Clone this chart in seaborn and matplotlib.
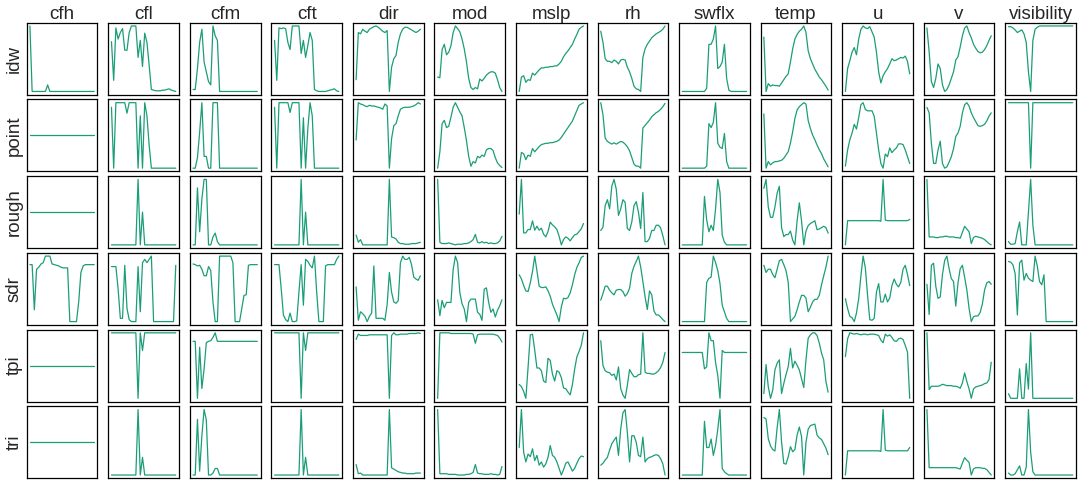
import matplotlib
matplotlib.use("Agg")
import matplotlib.pyplot as plt
import pandas as pd
import seaborn as sns

variables = ["cfh", "cfl", "cfm", "cft", "dir", "mod", "mslp", "rh", "swflx", "temp", "u", "v", "visibility"]
methods = ["idw", "point", "rough", "sdr", "tpi", "tri"]

# ---------------- idw ----------------
idw_cfh = [1.0,0,0,0,0,0,0,0,0.1,0,0,0,0,0,0,0,0,0,0,0,0,0,0,0,0,0,0,0,0,0]
idw_cfl = [0.76,0.17,0.97,0.8,0.9,0.96,0.63,0.63,0.9,1.0,1.0,1.0,0.52,0.78,0.38,0.89,0.75,0.4,0.03,0.02,0.01,0.01,0.01,0.02,0.02,0.03,0.04,0.02,0.01,0.0]
idw_cfm = [0.03,0.03,0.35,0.75,0.95,0.45,0.3,0.15,0.1,1.0,0.85,0.78,0.0,0,0,0,0,0,0,0,0,0,0,0,0,0,0,0,0,0]
idw_cft = [0.78,0.17,0.97,0.96,0.97,0.96,0.75,0.64,1.0,1.0,1.0,1.0,0.58,0.78,0.52,0.7,0.9,0.78,0.03,0.01,0.0,0.0,0.0,0.0,0.01,0.02,0.03,0.04,0.01,0.0]
idw_dir = [0.18,0.9,0.88,0.95,0.92,0.9,0.95,0.97,0.99,1.0,0.98,0.95,0.92,0.9,0.93,0.0,0.37,0.5,0.55,0.75,0.88,0.95,0.98,0.98,0.96,0.94,0.92,0.9,0.92,0.95]
idw_mod = [0.22,0.21,0.64,0.72,0.56,0.6,0.7,0.9,1.0,0.96,0.91,0.8,0.65,0.45,0.2,0.06,0.03,0.06,0.04,0.19,0.16,0.2,0.25,0.28,0.3,0.3,0.28,0.18,0.06,0.0]
idw_mslp = [0.0,0.22,0.24,0.14,0.18,0.17,0.28,0.25,0.29,0.33,0.36,0.36,0.37,0.37,0.38,0.38,0.39,0.39,0.42,0.46,0.53,0.58,0.62,0.67,0.72,0.8,0.87,0.95,0.98,1.0]
idw_rh = [0.92,0.75,0.5,0.46,0.46,0.44,0.48,0.46,0.42,0.48,0.49,0.48,0.37,0.3,0.2,0.08,0.04,0.03,0.0,0.52,0.65,0.72,0.77,0.82,0.85,0.88,0.9,0.92,0.95,1.0]
idw_swflx = [0,0,0,0,0,0,0,0,0,0,0,0.05,0.72,0.72,0.8,1.0,0.35,0.38,0.45,0.72,0.2,0.02,0,0,0,0,0,0,0,0]
idw_temp = [0.83,0.0,0.12,0.08,0.1,0.09,0.09,0.08,0.13,0.18,0.23,0.27,0.45,0.65,0.8,0.87,0.92,0.95,1.0,0.9,0.62,0.5,0.42,0.34,0.28,0.22,0.18,0.13,0.08,0.02]
idw_u = [0.0,0.35,0.47,0.6,0.67,0.56,0.8,0.95,1.0,0.97,0.96,0.99,0.91,0.83,0.6,0.3,0.13,0.24,0.3,0.35,0.42,0.5,0.47,0.48,0.5,0.52,0.51,0.54,0.46,0.27]
idw_v = [0.97,0.6,0.15,0.06,0.2,0.42,0.35,0.1,0.0,0.03,0.1,0.2,0.3,0.48,0.53,0.68,0.85,0.97,1.0,0.9,0.82,0.72,0.66,0.61,0.59,0.6,0.64,0.7,0.78,0.85]
idw_visibility = [0.99,0.99,0.97,0.94,0.9,0.92,0.94,0.88,0.75,0.3,0.0,0.78,0.95,0.98,1.0,1.0,1.0,1.0,1.0,1.0,1.0,1.0,1.0,1.0,1.0,1.0,1.0,1.0,1.0,1.0]

# ---------------- point ----------------
point_cfh = [0,0,0,0,0,0,0,0,0,0,0,0,0,0,0,0,0,0,0,0,0,0,0,0,0,0,0,0,0,0]
point_cfl = [0.93,0.0,1.0,1.0,1.0,1.0,1.0,0.84,1.0,1.0,1.0,1.0,0.0,0.8,0.0,1.0,0.8,0.35,0.0,0,0,0,0,0,0,0,0,0,0,0]
point_cfm = [0.0,0.0,0.16,0.55,1.0,0.18,0.18,0.0,0.0,1.0,1.0,1.0,0.0,0,0,0,0,0,0,0,0,0,0,0,0,0,0,0,0,0]
point_cft = [0.93,0.0,1.0,1.0,1.0,1.0,1.0,0.85,1.0,1.0,1.0,1.0,0.0,0.77,0.0,0.6,1.0,0.8,0.0,0,0,0,0,0,0,0,0,0,0,0]
point_dir = [0.43,1.0,0.98,0.97,0.95,0.94,0.96,0.95,0.95,0.94,0.93,0.92,0.9,0.98,0.95,0.0,0.45,0.65,0.68,0.8,0.9,0.92,0.93,0.93,0.93,0.94,0.95,0.97,1.0,0.98]
point_mod = [0.0,0.25,0.68,0.73,0.62,0.64,0.78,0.93,1.0,0.93,0.86,0.8,0.62,0.42,0.18,0.03,0.1,0.08,0.18,0.16,0.2,0.18,0.28,0.3,0.3,0.27,0.16,0.08,0.04,0.01]
point_mslp = [0.0,0.24,0.22,0.13,0.2,0.18,0.3,0.25,0.29,0.33,0.36,0.37,0.38,0.38,0.39,0.39,0.4,0.41,0.43,0.47,0.52,0.57,0.62,0.67,0.72,0.8,0.88,0.96,0.98,1.0]
point_rh = [0.98,0.8,0.45,0.4,0.38,0.36,0.38,0.36,0.38,0.4,0.39,0.36,0.32,0.26,0.16,0.06,0.03,0.03,0.0,0.6,0.64,0.68,0.72,0.77,0.8,0.83,0.85,0.88,0.92,0.97]
point_swflx = [0,0,0,0,0,0,0,0,0,0,0,0.03,0.68,0.62,0.7,1.0,0.38,0.32,0.3,0.53,0.1,0.0,0,0,0,0,0,0,0,0]
point_temp = [0.82,0.0,0.1,0.05,0.08,0.1,0.1,0.11,0.12,0.15,0.2,0.25,0.38,0.55,0.75,0.88,0.93,0.96,0.99,0.97,0.72,0.6,0.5,0.43,0.35,0.28,0.22,0.14,0.08,0.02]
point_u = [0.06,0.3,0.45,0.55,0.68,0.61,0.78,0.97,1.0,0.9,0.88,0.88,0.88,0.8,0.55,0.3,0.1,0.03,0.24,0.2,0.33,0.26,0.3,0.33,0.39,0.39,0.38,0.3,0.2,0.1]
point_v = [0.93,0.85,0.4,0.1,0.1,0.3,0.43,0.1,0.03,0.05,0.12,0.2,0.32,0.5,0.55,0.65,0.85,0.97,1.0,0.95,0.85,0.78,0.72,0.66,0.65,0.66,0.68,0.73,0.8,0.85]
point_visibility = [1.0,1.0,1.0,1.0,1.0,1.0,1.0,1.0,1.0,1.0,0.0,1.0,1.0,1.0,1.0,1.0,1.0,1.0,1.0,1.0,1.0,1.0,1.0,1.0,1.0,1.0,1.0,1.0,1.0,1.0]

# ---------------- rough ----------------
rough_cfh = [0,0,0,0,0,0,0,0,0,0,0,0,0,0,0,0,0,0,0,0,0,0,0,0,0,0,0,0,0,0]
rough_cfl = [0,0,0,0,0,0,0,0,0,0,0,0,1.0,0.0,0.5,0,0,0,0,0,0,0,0,0,0,0,0,0,0,0]
rough_cfm = [0.0,0.0,0.87,0.2,0.7,1.0,1.0,0.0,0.0,0.12,0.18,0.05,0,0,0,0,0,0,0,0,0,0,0,0,0,0,0,0,0,0]
rough_cft = [0,0,0,0,0,0,0,0,0,0,0,0,1.0,0.0,0.5,0,0,0,0,0,0,0,0,0,0,0,0,0,0,0]
rough_dir = [0.15,0.04,0.08,0.0,0.0,0.0,0.0,0.0,0.0,0.0,0.0,0.0,0.0,0.0,0.0,1.0,0.12,0.11,0.09,0.04,0.02,0.02,0.01,0.01,0.01,0.02,0.02,0.02,0.03,0.04]
rough_mod = [1.0,0.04,0.02,0.02,0.02,0.03,0.02,0.01,0.0,0.01,0.01,0.01,0.02,0.02,0.03,0.05,0.08,0.16,0.04,0.03,0.05,0.03,0.04,0.02,0.03,0.02,0.02,0.03,0.06,0.13]
rough_mslp = [0.48,1.0,0.2,0.2,0.25,0.25,0.38,0.24,0.3,0.24,0.27,0.18,0.14,0.22,0.36,0.32,0.29,0.25,0.15,0.02,0.1,0.14,0.12,0.08,0.13,0.17,0.18,0.22,0.26,0.34]
rough_rh = [0.22,0.27,0.6,0.69,0.55,0.9,1.0,0.85,0.45,0.55,0.69,0.65,0.25,0.22,0.35,0.6,0.66,0.5,0.25,0.8,0.05,0.05,0.1,0.22,0.22,0.3,0.3,0.26,0.14,0.0]
rough_swflx = [0,0,0,0,0,0,0,0,0,0,0.74,0.38,0.2,0.3,0.22,0.55,1.0,0.8,0.15,0.04,0,0,0,0,0,0,0,0,0,0]
rough_temp = [0.87,1.0,0.6,0.45,0.45,0.6,0.8,0.9,0.3,0.17,0.2,0.2,0.25,0.12,0.05,0.4,0.66,0.4,0.05,0.25,0.33,0.36,0.38,0.4,0.27,0.28,0.3,0.32,0.3,0.22]
rough_u = [0.0,0.37,0.37,0.37,0.37,0.37,0.37,0.37,0.37,0.37,0.37,0.37,0.37,0.37,0.37,0.37,0.36,1.0,0.38,0.37,0.37,0.37,0.37,0.37,0.37,0.37,0.37,0.37,0.37,0.39]
rough_v = [1.0,0.13,0.13,0.13,0.12,0.12,0.13,0.13,0.14,0.14,0.13,0.13,0.13,0.12,0.12,0.11,0.2,0.29,0.25,0.21,0.03,0.12,0.14,0.13,0.12,0.11,0.09,0.06,0.03,0.01]
rough_visibility = [0.05,0.01,0.01,0.02,0.2,0.35,0.0,0.0,0.0,0.5,1.0,0.3,0.0,0,0,0,0,0,0,0,0,0,0,0,0,0,0,0,0,0]

# ---------------- sdr ----------------
sdr_cfh = [0.87,0.87,0.18,0.8,0.83,0.88,0.9,1.0,1.0,1.0,0.88,0.87,0.86,0.85,0.83,0.82,0.82,0.82,0.0,0.0,0.0,0.0,0.3,0.75,0.85,0.87,0.87,0.87,0.87,0.87]
sdr_cfl = [0.84,0.84,0.84,0.5,0.05,0.05,0.86,0.2,0.03,0.0,0.0,0.0,0.84,0.15,0.9,0.95,0.9,0.95,1.0,0.0,0.0,0.0,0.0,0.0,0.0,0.0,0.0,0.0,0.0,0.86]
sdr_cfm = [0.88,0.87,0.85,0.86,0.8,0.7,0.7,0.84,0.78,0.3,0.0,0.0,1.0,1.0,1.0,1.0,1.0,1.0,0.9,0.0,0.0,0.0,0.2,0.4,0.41,0.86,0.87,0.87,0.87,0.87]
sdr_cft = [0.87,0.87,0.87,0.5,0.1,0.03,0.0,0.13,0.0,0.0,0.01,0.45,0.87,0.25,0.95,0.92,0.86,0.82,1.0,0.45,0.0,0.0,0.0,0.85,0.87,0.87,0.87,0.87,0.95,1.0]
sdr_dir = [0.53,0.02,0.15,0.12,0.08,0.0,0.08,0.13,0.85,0.05,0.05,0.05,0.05,0.02,0.26,0.75,0.45,0.3,0.28,0.32,0.9,1.0,0.95,0.95,0.98,0.87,0.68,0.65,0.63,0.7]
sdr_mod = [0.34,0.1,0.33,0.22,0.3,0.3,0.3,0.8,1.0,0.9,0.45,0.28,0.2,0.01,0.3,0.35,0.35,0.35,0.15,0.12,0.03,0.5,0.52,0.3,0.15,0.2,0.08,0.18,0.25,0.34]
sdr_mslp = [0.72,0.66,0.56,0.48,0.47,0.6,0.77,1.0,0.78,0.55,0.53,0.53,0.54,0.48,0.4,0.28,0.2,0.12,0.02,0.24,0.37,0.36,0.38,0.45,0.57,0.72,0.83,0.9,0.98,1.0]
sdr_rh = [0.32,0.42,0.53,0.53,0.47,0.43,0.4,0.47,0.48,0.48,0.45,0.38,0.42,0.5,0.72,0.83,0.9,0.98,0.82,0.6,0.37,0.18,0.46,0.4,0.16,0.1,0.1,0.07,0.03,0.0]
sdr_swflx = [0,0,0,0,0,0,0,0,0,0,0,0.6,0.66,0.68,1.0,0.9,0.78,0.58,0.25,0.15,0.05,0,0,0,0,0,0,0,0,0]
sdr_temp = [0.86,0.75,0.8,0.8,0.72,0.67,0.8,0.93,0.95,0.87,0.78,0.6,0.0,0.04,0.08,0.18,0.3,0.4,0.4,0.36,0.15,0.22,0.3,0.34,0.34,0.4,0.56,0.7,0.83,1.0]
sdr_u = [0.35,0.2,0.08,0.06,0.0,0.13,0.35,0.7,1.0,0.82,0.4,0.03,0.02,0.05,0.45,0.58,0.3,0.3,0.42,0.3,0.36,0.55,0.65,0.57,0.53,0.6,0.8,0.86,0.72,0.55]
sdr_v = [0.58,0.15,0.85,0.88,0.55,0.38,0.4,0.72,0.92,0.98,0.8,0.66,0.62,0.27,0.6,0.8,0.85,0.68,0.5,0.24,0.05,0.12,0.13,0.13,0.18,0.3,0.5,0.6,0.62,0.58]
sdr_visibility = [0.9,0.89,0.85,0.72,0.1,0.88,0.92,0.62,0.72,0.65,0.62,0.6,0.98,0.83,0.6,0.55,0.7,0.0,0,0,0,0,0,0,0,0,0,0,0,0]

# ---------------- tpi ----------------
tpi_cfh = [0,0,0,0,0,0,0,0,0,0,0,0,0,0,0,0,0,0,0,0,0,0,0,0,0,0,0,0,0,0]
tpi_cfl = [1,1,1,1,1,1,1,1,1,1,1,1,0.0,1.0,0.73,1,1,1,1,1,1,1,1,1,1,1,1,1,1,1]
tpi_cfm = [0.87,0.87,0.0,0.78,0.15,0.45,0.85,0.87,0.88,0.93,1.0,0.87,0.87,0.87,0.87,0.87,0.87,0.87,0.87,0.87,0.87,0.87,0.87,0.87,0.87,0.87,0.87,0.87,0.87,0.87]
tpi_cft = [1,1,1,1,1,1,1,1,1,1,1,1,0.0,1.0,0.73,1,1,1,1,1,1,1,1,1,1,1,1,1,1,1]
tpi_dir = [0.9,0.98,0.96,0.96,0.96,0.96,0.97,0.97,0.97,0.97,0.97,0.97,0.97,0.97,0.97,0.0,0.96,1.0,0.97,0.97,0.98,0.98,0.98,0.98,0.99,0.99,0.99,0.99,1.0,0.99]
tpi_mod = [0.0,1.0,1.0,1.0,1.0,1.0,0.99,0.99,0.99,0.99,0.99,0.99,0.99,0.99,0.99,0.99,0.98,0.84,0.97,0.98,0.98,0.98,0.98,0.98,0.98,0.98,0.97,0.96,0.92,0.86]
tpi_mslp = [0.25,0.22,0.15,0.05,0.5,0.97,0.98,0.75,0.49,0.49,0.45,0.3,0.28,0.63,0.6,0.4,0.3,0.45,0.43,0.35,0.2,0.19,0.14,0.1,0.25,0.47,0.65,0.73,0.82,1.0]
tpi_rh = [0.88,0.5,0.42,0.4,0.39,0.35,0.37,0.28,0.48,0.15,0.05,0.0,0.2,0.44,0.38,0.33,0.33,0.36,0.37,1.0,0.4,0.38,0.38,0.37,0.37,0.39,0.42,0.47,0.55,0.7]
tpi_swflx = [0.7,0.7,0.7,0.7,0.7,0.7,0.7,0.7,0.7,0.7,0.45,0.48,1.0,0.88,0.88,0.55,0.35,0.0,0.73,0.7,0.7,0.7,0.7,0.7,0.7,0.7,0.7,0.7,0.7,0.7]
tpi_temp = [0.1,0.53,0.2,0.03,0.15,0.45,0.55,0.6,0.1,0.25,0.38,0.5,0.77,0.48,0.58,0.52,0.45,0.32,0.19,0.6,0.92,0.97,1.0,1.0,0.96,0.85,0.7,0.6,0.28,0.12]
tpi_u = [0.63,0.9,0.99,0.98,0.97,0.98,0.97,0.96,0.97,0.97,0.96,0.97,0.97,0.97,0.96,0.95,0.88,0.84,0.97,0.94,0.96,0.92,0.87,0.86,0.9,0.91,0.89,0.8,0.7,0.0]
tpi_v = [1.0,0.15,0.2,0.2,0.2,0.2,0.21,0.23,0.22,0.21,0.21,0.21,0.2,0.2,0.19,0.17,0.25,0.4,0.27,0.16,0.02,0.16,0.19,0.2,0.21,0.22,0.24,0.25,0.3,0.56]
tpi_visibility = [0.07,0.0,0.0,0.0,0.0,0.45,0.0,0.0,0.53,0.14,1.0,0.0,0,0,0,0,0,0,0,0,0,0,0,0,0,0,0,0,0,0]

# ---------------- tri ----------------
tri_cfh = [0,0,0,0,0,0,0,0,0,0,0,0,0,0,0,0,0,0,0,0,0,0,0,0,0,0,0,0,0,0]
tri_cfl = [0,0,0,0,0,0,0,0,0,0,0,0,1.0,0.0,0.27,0,0,0,0,0,0,0,0,0,0,0,0,0,0,0]
tri_cfm = [0.0,0.0,0.85,0.06,0.6,1.0,0.84,0.0,0.0,0.03,0.1,0.1,0,0,0,0,0,0,0,0,0,0,0,0,0,0,0,0,0,0]
tri_cft = [0,0,0,0,0,0,0,0,0,0,0,0,1.0,0.0,0.27,0,0,0,0,0,0,0,0,0,0,0,0,0,0,0]
tri_dir = [0.16,0.02,0.03,0.0,0.0,0.0,0.0,0.0,0.0,0.0,0.0,0.0,0.0,0.0,0.0,1.0,0.11,0.09,0.07,0.05,0.04,0.03,0.03,0.02,0.02,0.02,0.02,0.03,0.03,0.03]
tri_mod = [1.0,0.02,0.02,0.02,0.02,0.01,0.01,0.01,0.01,0.0,0.0,0.0,0.0,0.01,0.01,0.02,0.04,0.16,0.03,0.02,0.02,0.01,0.01,0.01,0.02,0.01,0.01,0.0,0.01,0.13]
tri_mslp = [0.42,1.0,0.35,0.2,0.32,0.28,0.4,0.22,0.3,0.15,0.2,0.12,0.17,0.27,0.45,0.3,0.27,0.2,0.1,0.0,0.08,0.18,0.2,0.13,0.06,0.1,0.18,0.25,0.29,0.28]
tri_rh = [0.15,0.18,0.23,0.27,0.38,0.48,0.53,0.58,0.3,0.7,0.95,1.0,0.65,0.2,0.6,0.6,0.5,0.3,0.28,0.58,0.2,0.25,0.27,0.28,0.3,0.31,0.3,0.25,0.17,0.0]
tri_swflx = [0,0,0,0,0,0,0,0,0,0,0.82,0.42,0.42,0.55,0.3,0.45,0.7,1.0,0.1,0.05,0.02,0,0,0,0,0,0,0,0,0]
tri_temp = [0.84,0.82,0.55,0.45,0.4,0.38,0.7,0.95,0.5,0.21,0.2,0.3,0.44,0.37,0.4,0.6,0.71,0.58,0.05,0.5,0.68,0.73,0.74,0.75,0.6,0.56,0.54,0.48,0.42,0.33]
tri_u = [0.0,0.37,0.37,0.37,0.37,0.37,0.37,0.37,0.37,0.37,0.37,0.37,0.37,0.37,0.37,0.37,0.36,1.0,0.38,0.37,0.37,0.37,0.37,0.37,0.37,0.37,0.37,0.37,0.37,0.42]
tri_v = [1.0,0.13,0.13,0.13,0.13,0.13,0.13,0.13,0.13,0.13,0.13,0.13,0.13,0.13,0.12,0.11,0.2,0.28,0.24,0.21,0.02,0.11,0.13,0.13,0.13,0.12,0.12,0.1,0.06,0.02]
tri_visibility = [0.03,0.0,0.0,0.02,0.08,0.14,0.0,0.0,0.12,1.0,0.35,0.05,0.0,0,0,0,0,0,0,0,0,0,0,0,0,0,0,0,0,0]

# ---------------- build long table ----------------
records = []
ns = globals()
for m in methods:
    for v in variables:
        vals = ns[f"{m}_{v}"]
        for i, y in enumerate(vals):
            records.append({"method": m, "variable": v, "step": i, "value": y})
df = pd.DataFrame(records)

sns.set_style("white")
plt.rcParams["font.family"] = ["Liberation Sans", "DejaVu Sans"]

line_color = "#1b9e77"

fig, axes = plt.subplots(len(methods), len(variables), figsize=(10.84, 4.83), dpi=100)
fig.subplots_adjust(left=26.7 / 1084, right=1076 / 1084, top=1 - 22.7 / 483,
                    bottom=1 - 478.3 / 483, wspace=0.153, hspace=0.065)

for r, m in enumerate(methods):
    for c, v in enumerate(variables):
        ax = axes[r, c]
        sub = df[(df["method"] == m) & (df["variable"] == v)]
        sns.lineplot(data=sub, x="step", y="value", ax=ax, color=line_color,
                     linewidth=0.9, errorbar=None)
        ax.set_xticks([])
        ax.set_yticks([])
        ax.set_xlabel("")
        ax.set_ylabel("")
        for sp in ax.spines.values():
            sp.set_visible(True)
            sp.set_color("black")
            sp.set_linewidth(0.9)
        if r == 0:
            ax.set_title(v, fontsize=13.5, pad=3)
        if c == 0:
            ax.set_ylabel(m, fontsize=13.5, labelpad=3)

fig.savefig("out.png", dpi=100)
